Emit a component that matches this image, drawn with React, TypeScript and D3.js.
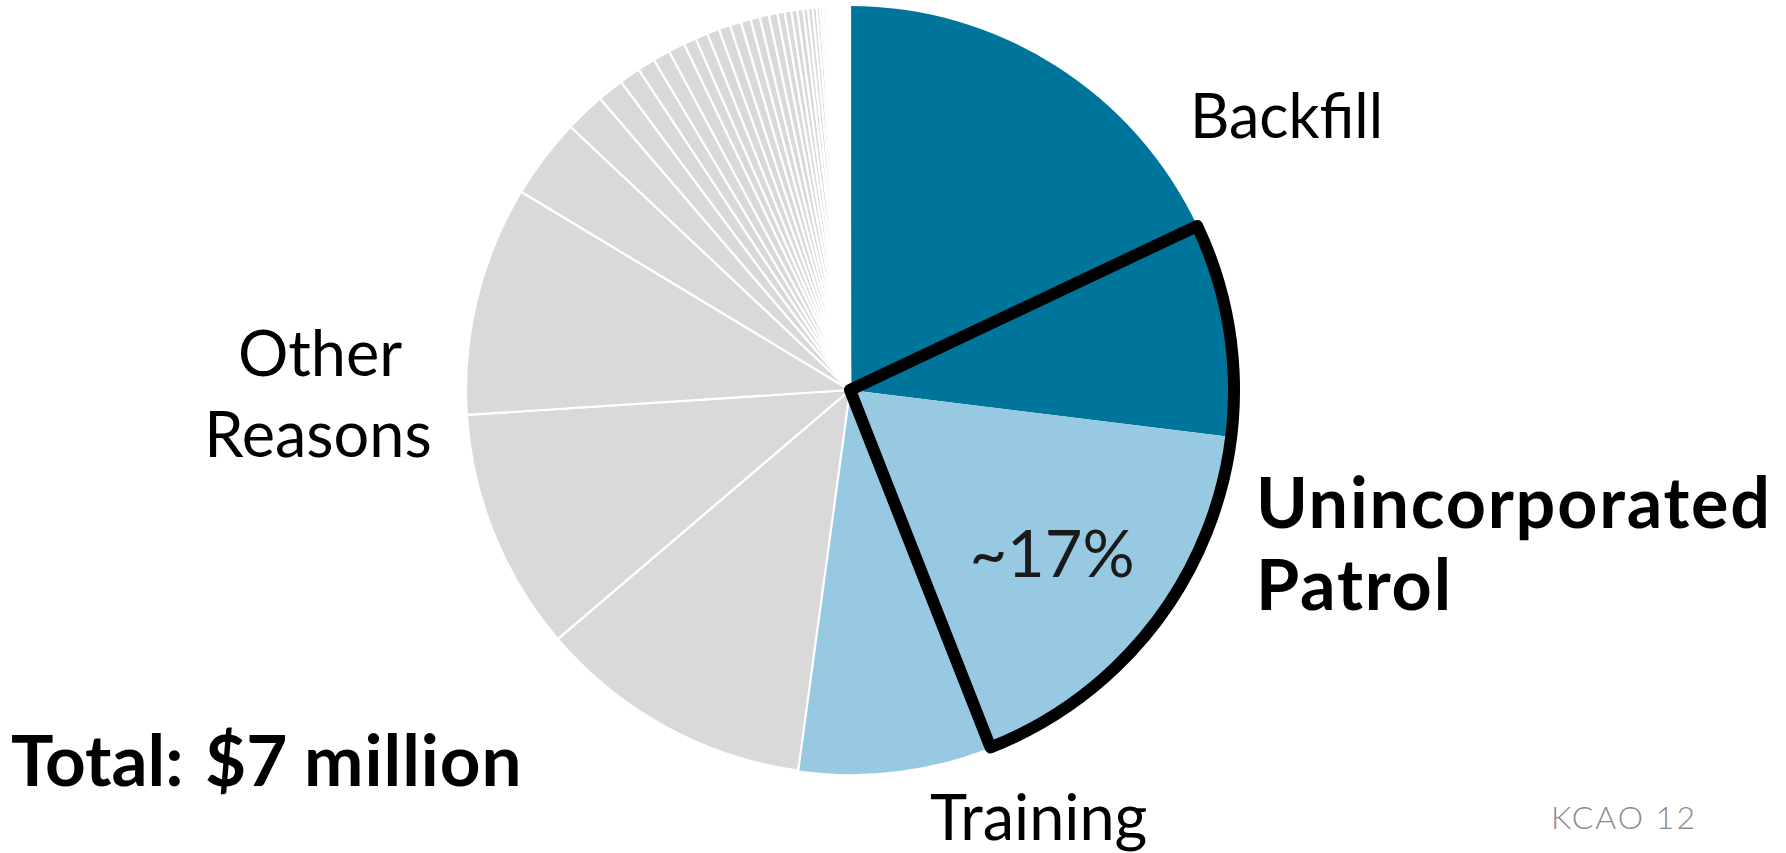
import React from "react";
import * as d3 from "d3";

// Slice shares (in degrees of the pie), clockwise from 12 o'clock
const mainCategories = [
  "Backfill",
  "Backfill – Unincorporated Patrol",
  "Training – Unincorporated Patrol",
  "Training",
];
const mainValues = [64.7, 32.3, 61.5, 29.2];
const mainGroups = ["dark", "dark", "light", "light"];

// "Other Reasons" slices, largest first, then the long tail
const otherValues = [
  41.8, 36.7, 34.8, 12.2, 6.1, 4.0, 3.2, 2.7,
  2.6, 2.5, 1.9, 1.9, 1.85, 1.75, 1.7, 1.5, 1.4, 1.4, 1.3, 1.1,
  1.0, 0.9, 0.9, 0.7, 0.7, 0.6, 0.5, 0.4,
  0.38, 0.35, 0.32, 0.3, 0.28, 0.26, 0.24, 0.22, 0.2, 0.18,
  0.16, 0.15, 0.14, 0.13, 0.12, 0.11, 0.1, 0.09, 0.08, 0.07,
  0.06, 0.05, 0.04, 0.03, 0.02, 0.02,
];

// Indices of slices forming the outlined "Unincorporated Patrol" wedge
const highlighted = [1, 2];

const labels = {
  backfill: "Backfill",
  other: ["Other", "Reasons"],
  patrol: ["Unincorporated", "Patrol"],
  pct: "~17%",
  training: "Training",
  total: ["Total:", "$7", "million"],
  footer: "KCAO 12",
};

const colors: Record<string, string> = {
  dark: "#00759c",
  light: "#97cae2",
  other: "#d9d9d9",
};

type Slice = { name: string; value: number; group: string };

export default function App() {
  const W = 1786;
  const H = 853;
  const cx = 850;
  const cy = 390;
  const r = 384;

  const data: Slice[] = [
    ...mainValues.map((v, i) => ({ name: mainCategories[i], value: v, group: mainGroups[i] })),
    ...otherValues.map((v, i) => ({ name: `Other ${i + 1}`, value: v, group: "other" })),
  ];

  const pie = d3
    .pie<Slice>()
    .value((d) => d.value)
    .sort(null)
    .startAngle(0)
    .endAngle(2 * Math.PI);
  const arcs = pie(data);
  const arc = d3.arc<d3.PieArcDatum<Slice>>().innerRadius(0).outerRadius(r);

  const hlStart = arcs[highlighted[0]].startAngle;
  const hlEnd = arcs[highlighted[highlighted.length - 1]].endAngle;
  const outline = d3.arc()({
    innerRadius: 0,
    outerRadius: r,
    startAngle: hlStart,
    endAngle: hlEnd,
  } as any) as string;

  const font = "Lato, 'Open Sans', sans-serif";

  return (
    <svg
      width={W}
      height={H}
      viewBox={`0 0 ${W} ${H}`}
      style={{ position: "absolute", left: 0, top: 0, background: "#fff" }}
    >
      <g transform={`translate(${cx},${cy})`}>
        {arcs.map((a, i) => (
          <path
            key={i}
            d={arc(a) as string}
            fill={colors[a.data.group]}
            stroke={a.data.group === "other" ? "#fff" : "none"}
            strokeWidth={a.data.group === "other" ? 2.2 : 0}
            strokeLinejoin="round"
          />
        ))}
        <path d={outline} fill="none" stroke="#000" strokeWidth={12} strokeLinejoin="round" />
      </g>

      <text x={1190} y={138} fontFamily={font} fontSize={61} fill="#000">
        {labels.backfill}
      </text>

      <text fontFamily={font} fontSize={63} fill="#000" textAnchor="middle">
        <tspan x={320} y={376}>{labels.other[0]}</tspan>
        <tspan x={318} y={457}>{labels.other[1]}</tspan>
      </text>

      <text fontFamily={font} fontSize={70} fontWeight={700} fill="#000" letterSpacing={1.8}>
        <tspan x={1256} y={528}>{labels.patrol[0]}</tspan>
        <tspan x={1256} y={610}>{labels.patrol[1]}</tspan>
      </text>

      <text x={1052} y={577} fontFamily={font} fontSize={65} fill="#1a1a1a" textAnchor="middle">
        {labels.pct}
      </text>

      <text x={930} y={840} fontFamily={font} fontSize={63} fill="#000">
        {labels.training}
      </text>

      <text y={786} fontFamily={font} fontSize={71} fontWeight={700} fill="#000">
        <tspan x={11}>{labels.total[0]}</tspan>
        <tspan x={205}>{labels.total[1]}</tspan>
        <tspan x={304} letterSpacing={1}>{labels.total[2]}</tspan>
      </text>

      <text x={1551} y={829} fontFamily={font} fontSize={32} fontWeight={300} fill="#8c8c8c" letterSpacing={2}>
        {labels.footer}
      </text>
    </svg>
  );
}
